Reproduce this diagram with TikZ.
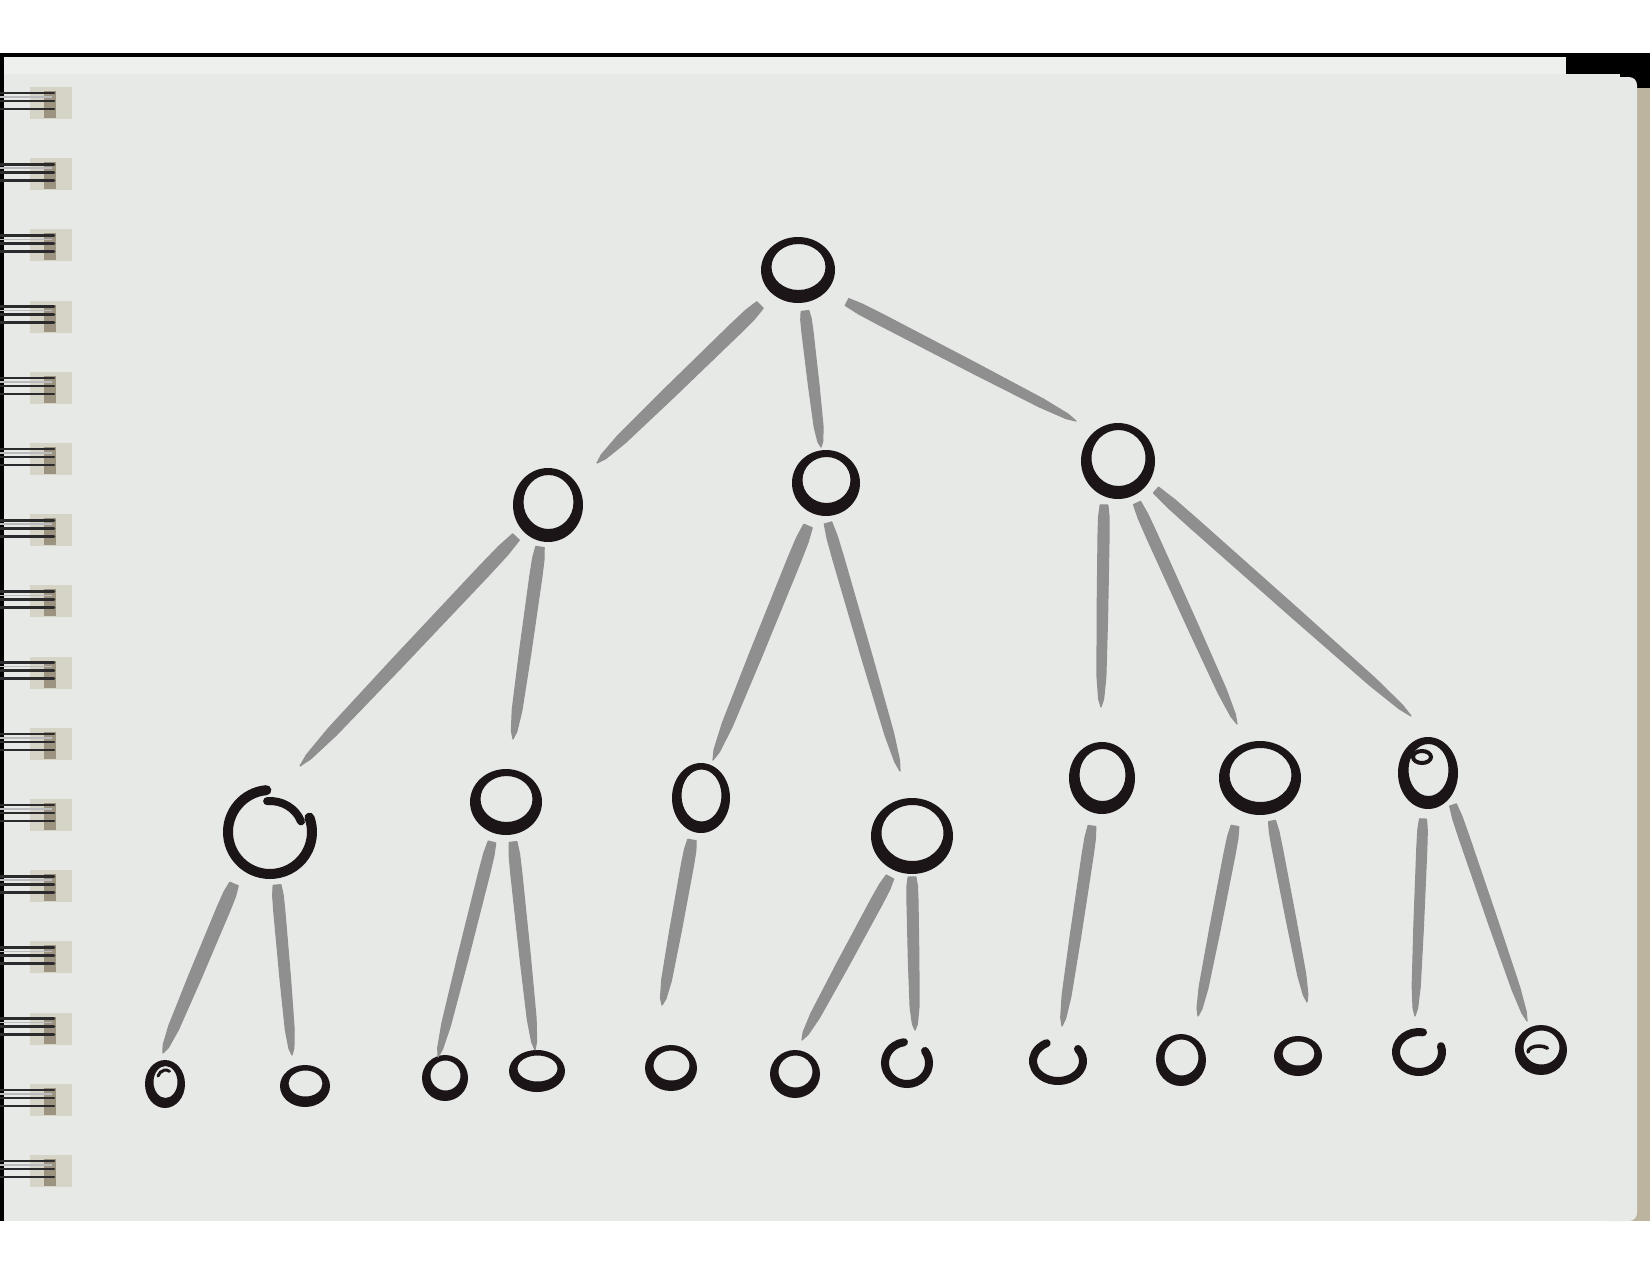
\documentclass[tikz,border=0pt]{standalone}
\usetikzlibrary{calc,shapes.geometric}
\definecolor{paper}{HTML}{E7E9E6}
\definecolor{sheet}{HTML}{EEF0EE}
\definecolor{ink}{HTML}{1B1517}
\definecolor{graystroke}{HTML}{8F8F8F}
\definecolor{tabcol}{HTML}{D6D3C7}
\definecolor{tabdark}{HTML}{9C9480}
\definecolor{wirecol}{HTML}{2B2B2D}
\definecolor{wirehi}{HTML}{B9BBBE}
\definecolor{beige}{HTML}{BDB49F}
\tikzset{
  hub/.style={ellipse, draw=none, inner sep=0pt, outer sep=0pt},
  inkarc/.style={draw=ink, line cap=round, line width=#1},
  wire/.style={draw=wirecol, line width=2.6pt, line cap=round},
}
% closed brush circle: name, x, y, rx, ry, thickness, bottom shift
\newcommand\bub[7]{%
  \node[hub, minimum width=#4*2pt, minimum height=#5*2pt] (#1) at (#2,#3) {};
  \fill[ink, even odd rule] (#1.center) ellipse[x radius=#4, y radius=#5]
     ($(#1.center)+(0.5,-#7)$) ellipse[x radius=#4-#6, y radius=#5-#6];}
% open node (drawn with arcs afterwards)
\newcommand\obub[5]{%
  \node[hub, minimum width=#4*2pt, minimum height=#5*2pt] (#1) at (#2,#3) {};}
% open arc: node, rx, ry, start, end, width
\newcommand\oarc[6]{%
  \draw[inkarc=#6] ($(#1.center)+(#4:#2 and #3)$) arc[start angle=#4, end angle=#5, x radius=#2, y radius=#3];}
% tapered grey brush stroke: from, to, half width
\newcommand\brush[3]{%
  \fill[graystroke, draw=graystroke, line width=1.2pt, line join=round]
   ($(#1)!#3*0.7!90:(#2)$)
   -- ($(#1)!0.06!(#2)!#3*0.95!90:(#2)$)
   -- ($(#1)!0.15!(#2)!#3!90:(#2)$)
   -- ($(#1)!0.55!(#2)!#3*0.95!90:(#2)$)
   -- ($(#1)!0.85!(#2)!#3*0.8!90:(#2)$)
   -- ($(#1)!0.96!(#2)!#3*0.45!90:(#2)$)
   -- (#2)
   -- ($(#1)!0.96!(#2)!#3*0.45!270:(#2)$)
   -- ($(#1)!0.85!(#2)!#3*0.8!270:(#2)$)
   -- ($(#1)!0.55!(#2)!#3*0.95!270:(#2)$)
   -- ($(#1)!0.15!(#2)!#3!270:(#2)$)
   -- ($(#1)!0.06!(#2)!#3*0.95!270:(#2)$)
   -- ($(#1)!#3*0.7!270:(#2)$) -- cycle;}
\begin{document}
\begin{tikzpicture}[x=1pt,y=-1pt]
\useasboundingbox (0,0) rectangle (1650,1275);
% ---------- photo background ----------
\fill[white] (0,0) rectangle (1650,1275);
\fill[black] (0,53) rectangle (4,1221);
\fill[black] (0,53) rectangle (1566,57);
\fill[sheet] (4,57) rectangle (1566,75);
\fill[black] (1566,53) rectangle (1650,90);
\fill[beige] (1628,88) rectangle (1650,1221);
\fill[paper] (4,74) rectangle (1620,1221);
\fill[paper, rounded corners=8pt] (1600,77) rectangle (1637,1221);
% ---------- spiral binding ----------
\foreach \i in {0,...,15}{
  \pgfmathsetmacro\yc{100+71.2*\i}
  \fill[tabcol] (30,\yc-13) rectangle (72,\yc+19);
  \fill[tabdark] (44,\yc-9) rectangle (56,\yc+18);
  \draw[wire] (0,\yc-7) -- (54,\yc-7);
  \draw[wirehi, line width=1.5pt] (0,\yc-3) -- (52,\yc-3);
  \draw[wire] (0,\yc+1) -- (54,\yc+1);
  \draw[wire] (0,\yc+9) -- (54,\yc+9);
}
% ---------- nodes ----------
\bub{top}{798}{270}{37}{33}{10}{3}
\bub{n1a}{548}{505}{35}{37}{10}{3}
\bub{n1b}{826}{483}{34}{33}{10}{3}
\bub{n1c}{1118}{461}{37}{38}{10}{3}
\obub{n2a}{270}{832}{47}{47}
\bub{n2b}{506}{802}{36}{33}{10}{3}
\bub{n2c}{701}{798}{29}{35}{9}{2.5}
\bub{n2d}{912}{836}{41}{38}{10}{3}
\bub{n2e}{1102}{778}{33}{36}{10}{3}
\bub{n2f}{1260}{778}{41}{37}{10}{3}
\bub{n2g}{1428}{773}{30}{36}{10}{3}
\bub{b1}{165}{1084}{20}{24}{8}{2}
\bub{b2}{305}{1086}{25}{21}{8}{2.5}
\bub{b3}{445}{1078}{23}{23}{8}{2.5}
\bub{b4}{537}{1071}{28}{21}{8}{2.5}
\bub{b5}{671}{1068}{26}{23}{8}{2.5}
\bub{b6}{795}{1074}{25}{24}{8}{2.5}
\obub{b7}{907}{1063}{26}{25}
\obub{b8}{1058}{1061}{29}{24}
\bub{b9}{1181}{1060}{25}{26}{8}{2.5}
\bub{b10}{1298}{1056}{24}{20}{8}{2.5}
\obub{b11}{1419}{1052}{27}{24}
\bub{b12}{1541}{1050}{26}{25}{8}{2.5}
% open strokes
\oarc{n2a}{42}{42}{265}{-20}{10pt}
\oarc{n2a}{33}{31}{-20}{-95}{8pt}
\oarc{b7}{22}{21}{-35}{262}{8pt}
\oarc{b8}{25}{20}{-37}{243}{8pt}
\oarc{b11}{23}{20}{-17}{280}{8pt}
% small inner curls
\draw[inkarc=4pt] ($(n2g.center)+(-6,-16)$) ellipse[x radius=9, y radius=6];
\draw[inkarc=3.5pt] ($(b12.center)+(-13,2)$) arc[start angle=180, end angle=320, x radius=11, y radius=6];
\draw[inkarc=3pt] ($(b1.center)+(-7,-8)$) arc[start angle=200, end angle=300, x radius=8, y radius=9];
% ---------- connectors ----------
\coordinate (a1) at (760,305);  \coordinate (a2) at (597,463);
\coordinate (a3) at (805,311);  \coordinate (a4) at (821,447);
\coordinate (a5) at (847,302);  \coordinate (a6) at (1076,421);
\coordinate (c1) at (516,537);  \coordinate (c2) at (300,766);
\coordinate (c3) at (540,547);  \coordinate (c4) at (513,739);
\coordinate (c5) at (808,526);  \coordinate (c6) at (713,760);
\coordinate (c7) at (828,523);  \coordinate (c8) at (900,771);
\coordinate (c9) at (1104,505); \coordinate (c10) at (1101,707);
\coordinate (c11) at (1137,503);\coordinate (c12) at (1237,724);
\coordinate (c13) at (1156,490);\coordinate (c14) at (1411,716);
\coordinate (d1) at (234,884);  \coordinate (d2) at (163,1053);
\coordinate (d3) at (277,885);  \coordinate (d4) at (292,1055);
\coordinate (d5) at (492,842);  \coordinate (d6) at (438,1057);
\coordinate (d7) at (513,842);  \coordinate (d8) at (535,1050);
\coordinate (d9) at (692,840);  \coordinate (d10) at (662,1005);
\coordinate (d11) at (890,877); \coordinate (d12) at (802,1040);
\coordinate (d13) at (912,877); \coordinate (d14) at (915,1030);
\coordinate (d15) at (1092,826);\coordinate (d16) at (1062,1026);
\coordinate (d17) at (1235,826);\coordinate (d18) at (1198,1016);
\coordinate (d19) at (1272,821);\coordinate (d20) at (1307,1002);
\coordinate (d21) at (1423,819);\coordinate (d22) at (1415,1016);
\coordinate (d23) at (1453,805);\coordinate (d24) at (1527,1021);
\brush{a1}{a2}{6.5pt}
\brush{a3}{a4}{5.5pt}
\brush{a5}{a6}{5.5pt}
\brush{c1}{c2}{6.5pt}
\brush{c3}{c4}{6pt}
\brush{c5}{c6}{6.5pt}
\brush{c7}{c8}{5.5pt}
\brush{c9}{c10}{5.5pt}
\brush{c11}{c12}{5.5pt}
\brush{c13}{c14}{5.5pt}
\brush{d1}{d2}{6.5pt}
\brush{d3}{d4}{5.5pt}
\brush{d5}{d6}{5.5pt}
\brush{d7}{d8}{5.5pt}
\brush{d9}{d10}{6pt}
\brush{d11}{d12}{6pt}
\brush{d13}{d14}{5.5pt}
\brush{d15}{d16}{5.5pt}
\brush{d17}{d18}{5.5pt}
\brush{d19}{d20}{5pt}
\brush{d21}{d22}{5pt}
\brush{d23}{d24}{5pt}
\end{tikzpicture}
\end{document}
